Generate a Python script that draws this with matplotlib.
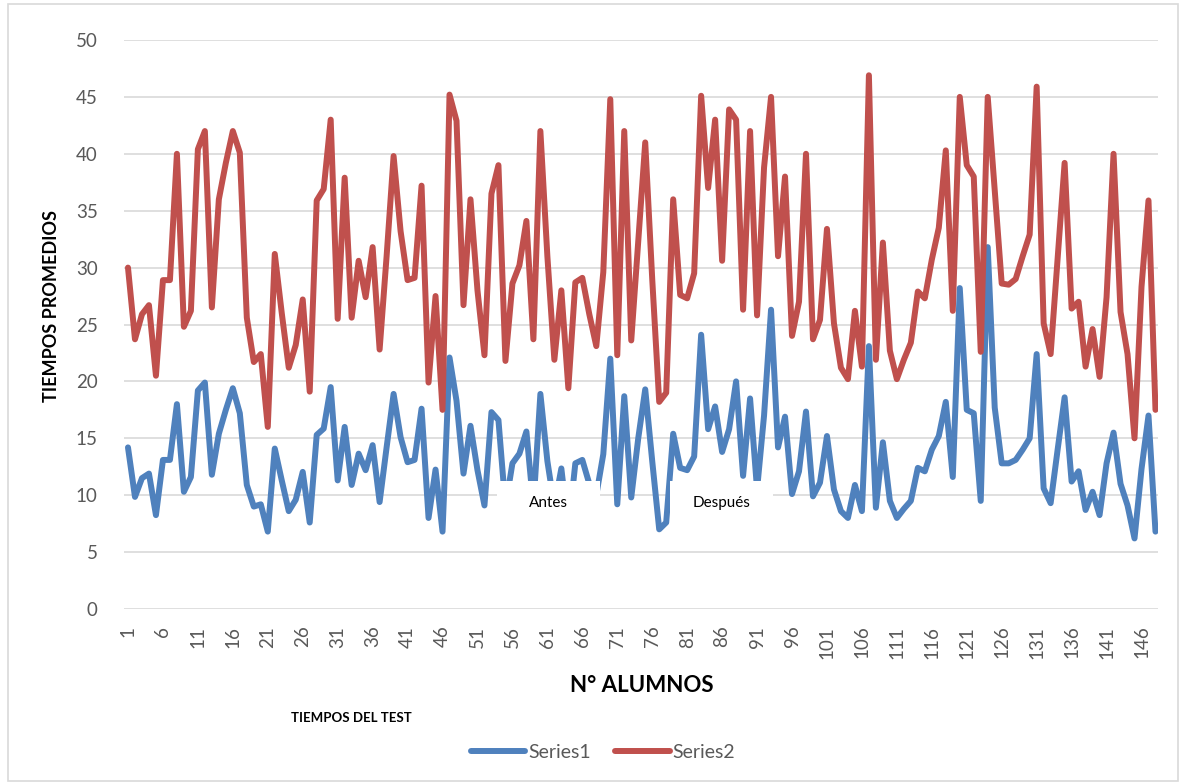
import numpy as np
import matplotlib.pyplot as plt
from matplotlib.patches import Rectangle

plt.rcParams['font.family'] = ['Lato', 'DejaVu Sans']

# tiempos promedios por alumno
series1 = [14.2, 9.85, 11.5, 11.9, 8.25, 13.1, 13.1, 18.0, 10.3, 11.6,
           19.2, 19.9, 11.8, 15.4, 17.5, 19.4, 17.2, 10.9, 9.0, 9.2,
           6.8, 14.1, 11.3, 8.6, 9.6, 12.05, 7.6, 15.3, 15.85, 19.5,
           11.3, 16.0, 10.9, 13.65, 12.2, 14.4, 9.4, 14.2, 18.9, 15.1,
           12.9, 13.1, 17.6, 8.0, 12.25, 6.8, 22.1, 18.3, 11.9, 16.1,
           12.2, 9.1, 17.3, 16.6, 9.0, 12.8, 13.65, 15.6, 9.0, 18.9,
           13.0, 9.0, 12.35, 7.0, 12.8, 13.1, 11.0, 10.0, 13.6, 22.0,
           9.2, 18.7, 9.8, 15.0, 19.3, 13.0, 7.0, 7.6, 15.4, 12.4,
           12.2, 13.4, 24.1, 15.8, 17.8, 13.8, 15.8, 20.0, 11.7, 18.5,
           10.5, 17.0, 26.3, 14.2, 16.9, 10.1, 12.1, 17.35, 9.9, 11.1,
           15.2, 10.5, 8.6, 8.0, 10.9, 8.6, 23.1, 8.9, 14.65, 9.5,
           8.0, 8.8, 9.5, 12.4, 12.1, 14.0, 15.2, 18.2, 11.6, 28.2,
           17.5, 17.2, 9.5, 31.8, 17.7, 12.8, 12.8, 13.1, 14.0, 15.0,
           22.4, 10.6, 9.3, 14.0, 18.6, 11.2, 12.1, 8.7, 10.3, 8.25,
           12.8, 15.5, 11.0, 9.1, 6.2, 12.3, 17.0, 6.8]

series2 = [30.0, 23.7, 25.9, 26.7, 20.5, 28.9, 28.9, 40.0, 24.8, 26.2,
           40.4, 42.0, 26.5, 36.0, 39.2, 42.0, 40.1, 25.6, 21.7, 22.4,
           16.0, 31.2, 26.0, 21.2, 23.2, 27.2, 19.1, 35.9, 36.9, 43.0,
           25.5, 37.9, 25.6, 30.6, 27.4, 31.8, 22.8, 31.0, 39.8, 33.2,
           28.9, 29.1, 37.2, 19.9, 27.5, 17.5, 45.2, 42.9, 26.7, 36.0,
           28.0, 22.3, 36.5, 39.0, 21.8, 28.6, 30.2, 34.1, 23.7, 42.0,
           31.0, 21.9, 28.0, 19.4, 28.7, 29.1, 25.9, 23.1, 29.6, 44.8,
           22.3, 42.0, 23.6, 32.3, 41.0, 29.0, 18.2, 19.0, 36.0, 27.6,
           27.3, 29.5, 45.1, 37.0, 43.0, 30.6, 43.9, 43.0, 26.3, 42.0,
           25.8, 38.8, 45.0, 31.0, 38.0, 24.0, 27.0, 40.0, 23.7, 25.4,
           33.4, 25.1, 21.2, 20.2, 26.2, 21.3, 46.9, 21.9, 32.2, 22.7,
           20.2, 21.9, 23.4, 27.9, 27.3, 30.7, 33.5, 40.3, 26.2, 45.0,
           39.0, 38.0, 22.6, 45.0, 36.8, 28.6, 28.5, 29.0, 31.0, 32.9,
           45.9, 25.1, 22.4, 30.8, 39.2, 26.4, 27.0, 21.3, 24.6, 20.4,
           27.4, 40.0, 26.1, 22.4, 15.0, 28.3, 35.9, 17.5]

alumnos = np.arange(1, len(series1) + 1)
xticks = alumnos[::5]
yticks = np.arange(0, 51, 5)

W, H = 1184, 784
fig = plt.figure(figsize=(W / 100, H / 100), dpi=100)
ax = fig.add_axes([124 / W, 1 - 609 / H, (1158 - 124) / W, (609 - 40) / H])

ax.plot(alumnos, series1, color='#4f81bd', lw=4.3, solid_joinstyle='round',
        solid_capstyle='round', label='Series1')
ax.plot(alumnos, series2, color='#c0504d', lw=4.3, solid_joinstyle='round',
        solid_capstyle='round', label='Series2')

ax.set_xlim(0.43, 148.36)
ax.set_ylim(0, 50)
ax.set_yticks(yticks)
ax.set_xticks(xticks)
ax.set_xticklabels([str(t) for t in xticks], rotation=90)
ax.tick_params(length=0, colors='#595959', labelsize=13.5)
ax.tick_params(axis='y', pad=19)
ax.tick_params(axis='x', pad=12)
ax.grid(axis='y', color='#d9d9d9', lw=1.2)
ax.set_axisbelow(True)
for s in ax.spines.values():
    s.set_visible(False)

# titulos
fig.text(52 / W, 1 - 306 / H, 'TIEMPOS PROMEDIOS', rotation=90, fontsize=13,
         fontweight='bold', ha='center', va='center')
fig.text(642 / W, 1 - 686 / H, 'N° ALUMNOS', fontsize=16, fontweight='bold',
         ha='center', va='center')
fig.text(351 / W, 1 - 718 / H, 'TIEMPOS DEL TEST', fontsize=9.5,
         fontweight='bold', ha='center', va='center')

# cuadros de texto
for x0, x1, txt in [(497, 600, 'Antes'), (670, 773, 'Después')]:
    fig.add_artist(Rectangle((x0 / W, 1 - 536 / H), (x1 - x0) / W, 55 / H,
                             transform=fig.transFigure, facecolor='white',
                             edgecolor='none', zorder=5))
    fig.text((x0 + x1) / 2 / W, 1 - 503 / H, txt, fontsize=11, ha='center',
             va='center', zorder=6)

fig.legend(loc='center', bbox_to_anchor=(603 / W, 1 - 752 / H), ncol=2,
           frameon=False, fontsize=14, handlelength=2.8, handletextpad=0.15,
           columnspacing=1.25, labelcolor='#595959')

fig.add_artist(Rectangle((8 / W, 3 / H), (1178 - 8) / W, (780 - 3) / H,
                         transform=fig.transFigure, fill=False,
                         edgecolor='#d9d9d9', lw=1.2))

fig.savefig('out.png', dpi=100)
